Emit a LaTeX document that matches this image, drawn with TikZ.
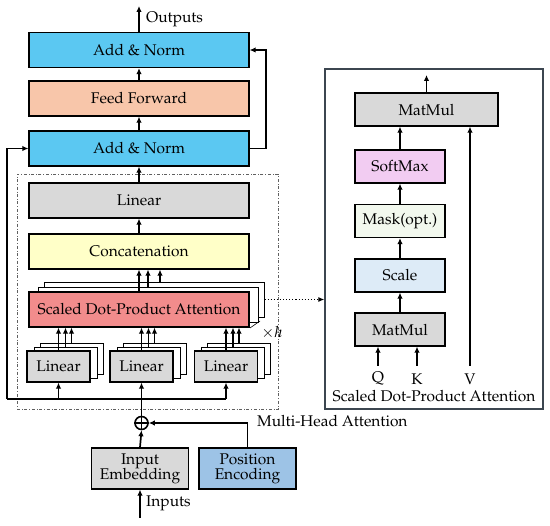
\documentclass[tikz,border=0pt]{standalone}
\usepackage[T1]{fontenc}
\usepackage{mathpazo}
\usepackage{tikz}
\usetikzlibrary{positioning, arrows.meta, calc}
\definecolor{cNorm}{HTML}{5BC8F2}
\definecolor{cFeed}{HTML}{F8C6AA}
\definecolor{cGray}{HTML}{D9D9D9}
\definecolor{cConcat}{HTML}{FFFFC8}
\definecolor{cAttn}{HTML}{F28C8C}
\definecolor{cPos}{HTML}{9DC3E6}
\definecolor{cSoft}{HTML}{F2CCF2}
\definecolor{cMask}{HTML}{F2F8EE}
\definecolor{cScale}{HTML}{DDEBF7}
\definecolor{cFrame}{HTML}{3C4650}
\definecolor{cDash}{HTML}{606060}

\begin{document}
\begin{tikzpicture}[x=1pt, y=-1pt,
  box/.style={draw=black, line width=1.3pt, font=\fontsize{15.5}{18}\selectfont, inner sep=1pt, align=center},
  wide/.style={box, minimum width=220pt, minimum height=35pt},
  small/.style={box, minimum width=63pt, minimum height=31pt, fill=cGray},
  inner/.style={box, minimum width=90pt, minimum height=33pt},
  ghost/.style={draw=black, line width=0.8pt, fill=white},
  arr/.style={line width=1.7pt, -{Latex[length=6pt, width=5.5pt]}},
  lbl/.style={font=\fontsize{15.5}{18}\selectfont, inner sep=0pt},
]
  \useasboundingbox (0,0) rectangle (550,526);

  \node[draw=cDash, dash dot, line width=0.9pt, minimum width=261pt, minimum height=235pt] (mha) at (147.5,291.5) {};
  \node[draw=cFrame, line width=1.3pt, minimum width=218pt, minimum height=340pt] (attbox) at (434,239) {};

  \node[wide, fill=cNorm] (norm2) at (139,50) {Add \& Norm};
  \node[wide, fill=cFeed] (ffn) at (139,98.5) {Feed Forward};
  \node[wide, fill=cNorm] (norm1) at (139,148.5) {Add \& Norm};
  \node[wide, fill=cGray] (linear) at (139,200.5) {Linear};
  \node[wide, fill=cConcat] (concat) at (139,251.5) {Concatenation};
  \node[ghost, minimum width=220pt, minimum height=35pt] (sdpa-2) at (154,299.5) {};
  \node[ghost, minimum width=220pt, minimum height=35pt] (sdpa-1) at (148,304.5) {};
  \node[wide, fill=cAttn] (sdpa) at (139,309.5) {Scaled Dot-Product Attention};

  \foreach \i/\x in {1/58.5, 2/141.5, 3/226} {
    \node[ghost, minimum width=63pt, minimum height=31pt] (lin\i-2) at (\x+13,358.5) {};
    \node[ghost, minimum width=63pt, minimum height=31pt] (lin\i-1) at (\x+7,362.5) {};
    \node[small] (lin\i) at (\x,366.5) {Linear};
    \draw[arr] (lin\i.north) -- (lin\i.north |- sdpa.south);
    \draw[arr] (lin\i-1.north) -- (lin\i-1.north |- sdpa.south);
    \draw[arr] (lin\i-2.north) -- (lin\i-2.north |- sdpa.south);
  }

  \node[draw=black, line width=1.6pt, circle, minimum size=13pt, inner sep=0pt] (plus) at (141.5,423) {};
  \draw[line width=1.6pt] (plus.north) -- (plus.south) (plus.west) -- (plus.east);
  \node[box, fill=cGray, minimum width=97pt, minimum height=41pt, inner sep=0pt] (embed) at (140,468.5) {Input\\[-3pt]Embedding};
  \node[box, fill=cPos, minimum width=97pt, minimum height=41pt, inner sep=0pt] (posenc) at (247.5,468.5) {Position\\[-3pt]Encoding};

  \coordinate (inputs) at (140,518);
  \coordinate (outputs) at (139,6);
  \coordinate (busL) at (7,399);
  \coordinate (busR) at (226,399);

  \draw[arr] (inputs) -- (embed.south);
  \draw[arr] (embed.north) -- (plus.south);
  \draw[arr] (posenc.north) |- (plus.east);
  \draw[arr] (plus.north) -- (lin2.south);
  \draw[line width=1.7pt] (busL) -- (busR);
  \draw[arr] (lin1.south |- busL) -- (lin1.south);
  \draw[arr] (busR) -- (lin3.south);
  \draw[arr] (busL) |- (norm1.west);

  \coordinate (sdpaC) at ($(sdpa-2.north)+(6,0)$);
  \draw[arr] (sdpa.north) -- (concat.south);
  \draw[arr] (sdpa-1.north) -- (sdpa-1.north |- concat.south);
  \draw[arr] (sdpaC) -- (sdpaC |- concat.south);
  \draw[arr] (concat.north) -- (linear.south);
  \draw[arr] (linear.north) -- (norm1.south);
  \draw[arr] (norm1.north) -- (ffn.south);
  \draw[arr] (ffn.north) -- (norm2.south);
  \draw[arr] (norm2.north) -- (outputs);
  \draw[arr] (norm1.east) -- ++(16,0) |- (norm2.east);

  \draw[line width=0.6pt] (250,328) -- (260,321);
  \node[lbl] (xh) at (272,333) {$\times h$};
  \node[lbl, anchor=west] (outlbl) at (146,19) {Outputs};
  \node[lbl, anchor=west] (inlbl) at (146,503) {Inputs};
  \node[lbl, anchor=west] (mhalbl) at (257,421) {Multi-Head Attention};

  \draw[dotted, line width=1.1pt, -{Latex[length=6pt, width=5pt]}] (sdpa-2.east) -- (sdpa-2.east -| attbox.west);

  \node[inner, fill=cGray, minimum width=143pt] (mm2) at (426.5,109.5) {MatMul};
  \node[inner, fill=cSoft] (softmax) at (400,166.5) {SoftMax};
  \node[inner, fill=cMask] (mask) at (400,221) {Mask(opt.)};
  \node[inner, fill=cScale] (scale) at (400,275.5) {Scale};
  \node[inner, fill=cGray] (mm1) at (400,329.5) {MatMul};

  \coordinate (attout) at (426.5,75);
  \coordinate (qin) at (378,366);
  \coordinate (kin) at (417,366);
  \coordinate (vin) at (470,366);

  \draw[arr] (mm2.north) -- (attout);
  \draw[arr] (softmax.north) -- (softmax.north |- mm2.south);
  \draw[arr] (mask.north) -- (softmax.south);
  \draw[arr] (scale.north) -- (mask.south);
  \draw[arr] (mm1.north) -- (scale.south);
  \draw[arr] (qin) -- (qin |- mm1.south);
  \draw[arr] (kin) -- (kin |- mm1.south);
  \draw[arr] (vin) -- (vin |- mm2.south);

  \node[lbl] (qlbl) at (378,379) {Q};
  \node[lbl] (klbl) at (417,379) {K};
  \node[lbl] (vlbl) at (470,379) {V};
  \node[lbl] (attlbl) at (434,396) {Scaled Dot-Product Attention};
\end{tikzpicture}
\end{document}
